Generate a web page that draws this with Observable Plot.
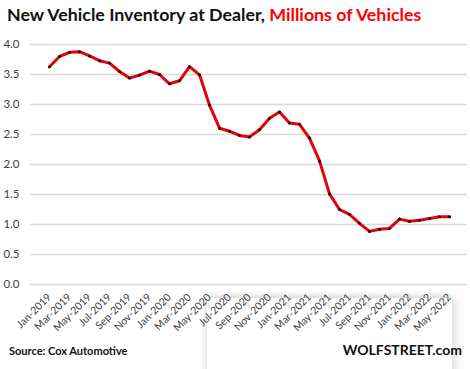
<!DOCTYPE html>
<html><head><meta charset="utf-8">
<script src="https://cdn.jsdelivr.net/npm/d3@7"></script>
<script src="https://cdn.jsdelivr.net/npm/@observablehq/plot@0.6"></script>
<style>
body{margin:0;background:#fff;}
#wrap{position:relative;width:470px;height:369px;overflow:hidden;font-family:Lato,sans-serif;}
#title{position:absolute;left:7px;top:3px;font-weight:bold;font-size:17.8px;white-space:nowrap;color:#111}
#title span{color:#f00}
#box{position:absolute;left:207px;top:298px;width:245px;height:90px;background:#fff;box-shadow:-2px -2px 6px rgba(0,0,0,0.12), 5px 0 8px rgba(0,0,0,0.10)}
#chart{position:absolute;left:0;top:34px}
#source{position:absolute;left:9px;top:344px;font-weight:bold;font-size:11px;color:#111}
#wolf{position:absolute;right:8px;top:341px;font-weight:bold;font-size:14px;color:#111}
</style></head>
<body>
<div id="wrap">
  <div id="title">New Vehicle Inventory at Dealer, <span>Millions of Vehicles</span></div>
  <div id="box"></div>
  <div id="chart"></div>
  <div id="source">Source: Cox Automotive</div>
  <div id="wolf">WOLFSTREET.com</div>
</div>
<script>
const months = ["Jan-2019","Feb-2019","Mar-2019","Apr-2019","May-2019","Jun-2019","Jul-2019","Aug-2019","Sep-2019","Oct-2019","Nov-2019","Dec-2019",
"Jan-2020","Feb-2020","Mar-2020","Apr-2020","May-2020","Jun-2020","Jul-2020","Aug-2020","Sep-2020","Oct-2020","Nov-2020","Dec-2020",
"Jan-2021","Feb-2021","Mar-2021","Apr-2021","May-2021","Jun-2021","Jul-2021","Aug-2021","Sep-2021","Oct-2021","Nov-2021","Dec-2021",
"Jan-2022","Feb-2022","Mar-2022","Apr-2022","May-2022"];
const inventory = [3.63,3.80,3.87,3.88,3.81,3.73,3.69,3.55,3.44,3.49,3.555,3.50,
3.345,3.395,3.63,3.495,2.99,2.605,2.555,2.485,2.46,2.58,2.77,2.875,
2.69,2.67,2.44,2.06,1.51,1.25,1.17,1.02,0.885,0.92,0.935,1.09,
1.055,1.07,1.10,1.13,1.13];
const xTickLabels = ["Jan-2019","Mar-2019","May-2019","Jul-2019","Sep-2019","Nov-2019","Jan-2020","Mar-2020","May-2020","Jul-2020","Sep-2020","Nov-2020","Jan-2021","Mar-2021","May-2021","Jul-2021","Sep-2021","Nov-2021","Jan-2022","Mar-2022","May-2022"];
const yTicks = [0,0.5,1,1.5,2,2.5,3,3.5,4];

const data = months.map((m,i)=>({month:m,value:inventory[i]}));

const chart = Plot.plot({
  width:470, height:300,
  marginLeft:34, marginRight:7, marginTop:10, marginBottom:50,
  style:{background:"transparent", fontFamily:"Lato, sans-serif", color:"#404040"},
  x:{type:"point", domain:months},
  y:{domain:[0,4]},
  marks:[
    Plot.ruleY(yTicks,{stroke:"#d9d9d9",strokeWidth:1.5,insetLeft:-4,insetRight:-4}),
    Plot.axisY({ticks:yTicks,tickFormat:d=>d.toFixed(1),tickSize:0,tickPadding:15,fontSize:11.5,label:null}),
    Plot.axisX({ticks:xTickLabels,tickSize:0,tickRotate:-45,tickPadding:11,fontSize:10.5,label:null}),
    Plot.lineY(data,{x:"month",y:"value",stroke:"#e8000b",strokeWidth:3}),
    Plot.dot(data,{x:"month",y:"value",r:1.5,fill:"#111",stroke:null})
  ]
});
document.getElementById("chart").appendChild(chart);
</script>
</body></html>
